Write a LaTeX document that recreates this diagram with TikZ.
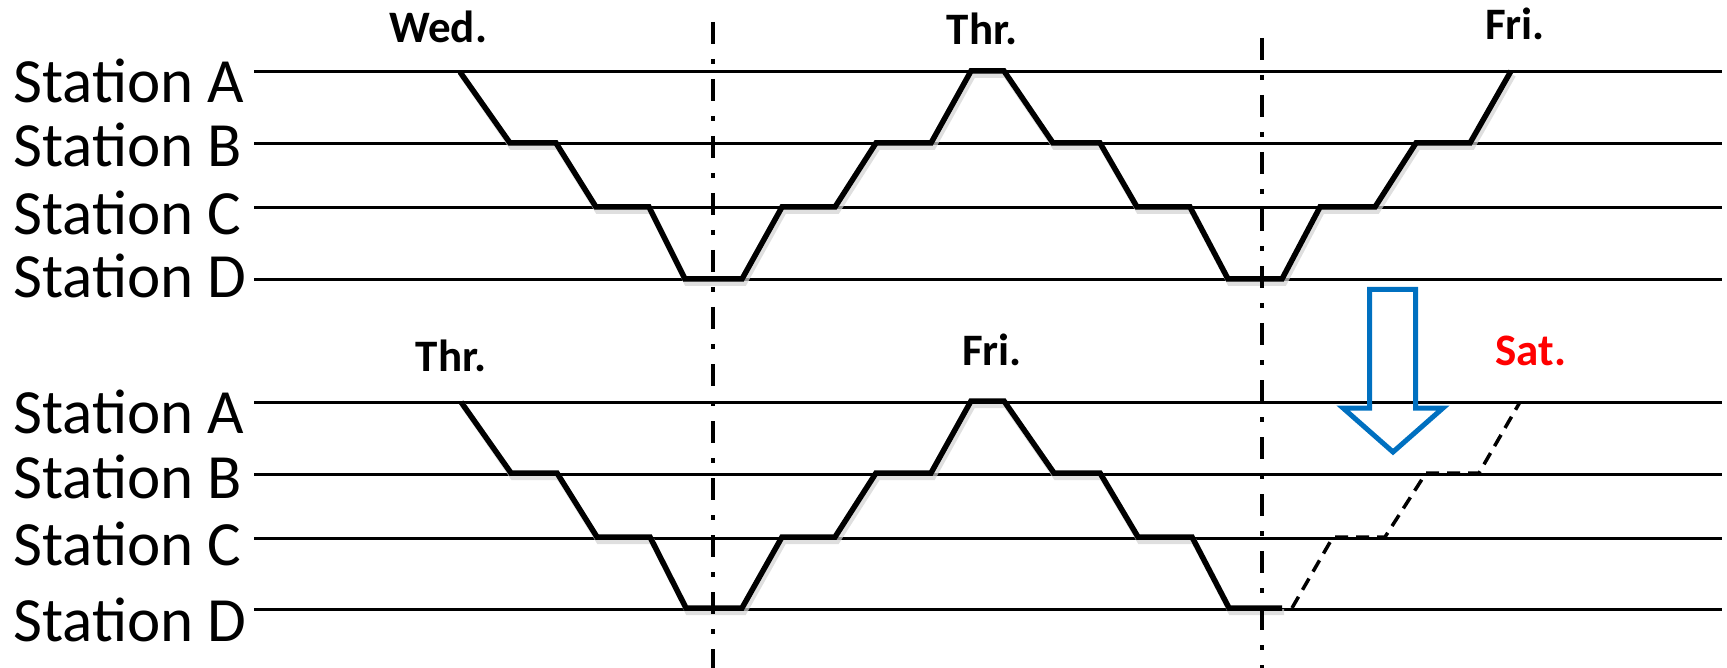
\documentclass[tikz,border=0pt]{standalone}
\usepackage{fontspec}
\setmainfont{Carlito}
\definecolor{officeblue}{RGB}{0,112,192}
\definecolor{satred}{RGB}{255,0,0}
\tikzset{
  station/.style={line width=3pt, black},
  train/.style={line width=5.5pt, black, line join=miter, line cap=butt},
  trainshadow/.style={line width=6pt, black!18, line join=miter, opacity=0.7},
  plan/.style={line width=3.5pt, black, dash pattern=on 13pt off 8pt},
  daysep/.style={line width=4.5pt, black, dash pattern=on 22pt off 15pt on 5pt off 15pt},
  stlabel/.style={inner sep=0pt, anchor=base west, font=\fontsize{63}{63}\selectfont},
  daylabel/.style={inner sep=0pt, anchor=base, font=\fontsize{45}{45}\selectfont\bfseries},
  bigarrow/.style={line width=5pt, officeblue, line join=miter}
}
\begin{document}
\begin{tikzpicture}[x=1pt,y=-1pt]
\useasboundingbox (0,0) rectangle (1727,668);

% station labels
\node[stlabel] (tA) at (13,103) {Station A};
\node[stlabel] (tB) at (13,167) {Station B};
\node[stlabel] (tC) at (13,235) {Station C};
\node[stlabel] (tD) at (13,298) {Station D};
\node[stlabel] (bA) at (13,433) {Station A};
\node[stlabel] (bB) at (13,498) {Station B};
\node[stlabel] (bC) at (13,565) {Station C};
\node[stlabel] (bD) at (13,641) {Station D};

% station lines
\foreach \y in {72,144,208,280,402,474,538,609}
  \draw[station] (254,\y) -- (1722,\y);

% shadows of train paths
\begin{scope}[shift={(2,3)}]
\draw[trainshadow] (460,72) -- (510,144) -- (556,144) -- (596,208) -- (649,208) -- (685,280) -- (742,280) -- (782,208) -- (835,208) -- (876,144) -- (931,144) -- (971,72) -- (1004,72) -- (1053,144) -- (1100,144) -- (1137,208) -- (1190,208) -- (1228,280) -- (1282,280) -- (1320,208) -- (1375,208) -- (1416,144) -- (1470,144) -- (1511,72);
\draw[trainshadow] (461,402) -- (511,474) -- (557,474) -- (597,538) -- (650,538) -- (686,609) -- (742,609) -- (782,538) -- (835,538) -- (876,474) -- (931,474) -- (971,402) -- (1004,402) -- (1054,474) -- (1100,474) -- (1138,538) -- (1192,538) -- (1229,609) -- (1282,609);
\end{scope}

% top train path
\draw[train] (460,72) -- (510,143) -- (556,143) -- (596,207) -- (649,207) -- (685,279) -- (742,279) -- (782,207) -- (835,207) -- (876,143) -- (931,143) -- (971,71) -- (1004,71) -- (1053,143) -- (1100,143) -- (1137,207) -- (1190,207) -- (1228,279) -- (1282,279) -- (1320,207) -- (1375,207) -- (1416,143) -- (1470,143) -- (1511,71);

% bottom train path
\draw[train] (461,402) -- (511,473) -- (557,473) -- (597,537) -- (650,537) -- (686,608) -- (742,608) -- (782,537) -- (835,537) -- (876,473) -- (931,473) -- (971,401) -- (1004,401) -- (1054,473) -- (1100,473) -- (1138,537) -- (1192,537) -- (1229,608) -- (1282,608);

% planned (dashed) path
\draw[plan] (1292,608) -- (1333,537) -- (1385,537) -- (1426,473) -- (1479,473) -- (1520,402);

% day separators
\coordinate (s1top) at (713,22);
\coordinate (s1bot) at (713,668);
\coordinate (s2top) at (1262,38);
\coordinate (s2bot) at (1262,668);
\draw[daysep] (s1top) -- (s1bot);
\draw[daysep] (s2top) -- (s2bot);

% day labels
\node[daylabel] (wed) at (438,43) {Wed.};
\node[daylabel] (thr1) at (982,45) {Thr.};
\node[daylabel] (fri1) at (1515,40) {Fri.};
\node[daylabel] (thr2) at (451,371) {Thr.};
\node[daylabel] (fri2) at (992,366) {Fri.};
\node[daylabel, text=satred] (sat) at (1531,366) {Sat.};

% blue hollow arrow
\draw[bigarrow] (1369.5,289.5) -- (1415.5,289.5) -- (1415.5,408) -- (1443,408) -- (1393,452) -- (1343,408) -- (1369.5,408) -- cycle;
\end{tikzpicture}
\end{document}
